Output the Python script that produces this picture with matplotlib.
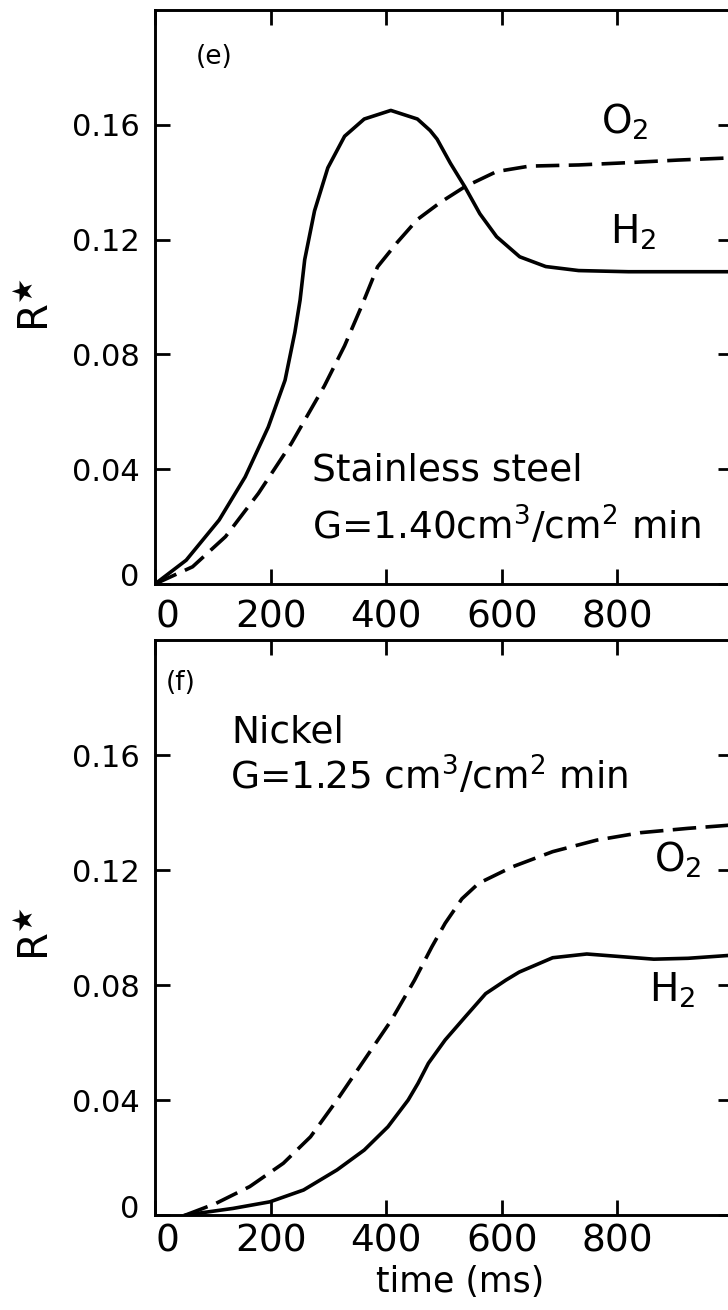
import matplotlib
matplotlib.use('Agg')
import matplotlib.pyplot as plt
from matplotlib.transforms import ScaledTranslation

# panel (e): stainless steel, time in ms, R* values
steel_h2_t = [0, 54, 111, 156, 196, 225, 242, 251, 259, 276, 299, 328, 362, 408, 454, 476, 488, 511, 536, 562, 591, 631, 676, 733, 819, 900, 1000]
steel_h2_r = [0, 0.0083, 0.0223, 0.0373, 0.0547, 0.071, 0.0877, 0.0989, 0.113, 0.130, 0.145, 0.156, 0.162, 0.165, 0.162, 0.158, 0.155, 0.1466, 0.1384, 0.129, 0.121, 0.114, 0.1106, 0.1092, 0.1088, 0.1088, 0.1088]
steel_o2_t = [0, 65, 122, 179, 236, 293, 328, 357, 385, 419, 454, 494, 536, 591, 648, 733, 819, 905, 1000]
steel_o2_r = [0, 0.006, 0.0165, 0.0316, 0.049, 0.069, 0.083, 0.0966, 0.1105, 0.119, 0.127, 0.133, 0.1384, 0.1437, 0.1456, 0.146, 0.1468, 0.1477, 0.1485]

# panel (f): nickel
nickel_o2_t = [53, 105, 164, 222, 269, 315, 362, 409, 449, 479, 502, 531, 560, 618, 688, 764, 840, 922, 1000]
nickel_o2_r = [0, 0.004, 0.0099, 0.018, 0.0272, 0.040, 0.0539, 0.0678, 0.0817, 0.0933, 0.1015, 0.110, 0.1154, 0.1211, 0.1264, 0.1304, 0.133, 0.1345, 0.1357]
nickel_h2_t = [53, 135, 199, 257, 315, 362, 403, 438, 455, 473, 502, 537, 572, 607, 630, 659, 688, 747, 805, 863, 922, 1000]
nickel_h2_r = [0, 0.0023, 0.0046, 0.0087, 0.0157, 0.0226, 0.0307, 0.040, 0.0458, 0.0528, 0.0609, 0.069, 0.077, 0.0817, 0.0845, 0.087, 0.0895, 0.0908, 0.0899, 0.089, 0.0893, 0.0904]

x_ticks = [0, 200, 400, 600, 800, 1000]
x_tick_labels = ['0', '200', '400', '600', '800', '']  # 1000 is cut off in the original
y_ticks = [0, 0.04, 0.08, 0.12, 0.16]
y_tick_labels = ['0', '0.04', '0.08', '0.12', '0.16']

plt.rcParams['font.family'] = 'DejaVu Sans'
plt.rcParams['mathtext.default'] = 'regular'

LW = 2.6
DASH = (0, (6.5, 2.6))
TXT = 27
GAS = 28


def style_axes(fig, ax, xpad):
	"""Limits, inward ticks on all sides, heavy spines and the R* label"""
	ax.set_xlim(0, 1000)
	ax.set_ylim(0, 0.2)
	ax.set_xticks(x_ticks)
	ax.set_xticklabels(x_tick_labels)
	ax.set_yticks(y_ticks)
	ax.set_yticklabels(y_tick_labels)
	ax.tick_params(direction='in', top=True, right=True, length=11, width=2)
	ax.tick_params(axis='x', labelsize=27, pad=xpad)
	ax.tick_params(axis='y', labelsize=22, pad=11)
	for sp in ax.spines.values():
		sp.set_linewidth(2.1)

	# hand lettered zeros sit a little off their ticks
	lab = ax.get_xticklabels()[0]
	lab.set_transform(lab.get_transform() + ScaledTranslation(0.12, 0, fig.dpi_scale_trans))
	lab = ax.get_yticklabels()[0]
	lab.set_transform(lab.get_transform() + ScaledTranslation(0, 0.09, fig.dpi_scale_trans))

	ax.set_ylabel('R$^{\u2605}$', fontsize=29, va='center')


fig = plt.figure(figsize=(7.28, 13.10), dpi=100)

# the right edge of the original figure is cut off, so the axes run past it
ax1 = fig.add_axes([0.2129, 0.5542, 0.794, 0.4382])
ax1.plot(steel_h2_t, steel_h2_r, color='black', lw=LW)
ax1.plot(steel_o2_t, steel_o2_r, color='black', lw=LW, linestyle=DASH)
style_axes(fig, ax1, 11)
ax1.yaxis.set_label_coords(-0.202, 0.486)
ax1.text(70, 0.181, '(e)', fontsize=19)
ax1.text(771, 0.157, 'O$_2$', fontsize=GAS)
ax1.text(788, 0.1187, 'H$_2$', fontsize=GAS)
ax1.text(271, 0.0362, 'Stainless steel', fontsize=TXT)
ax1.text(271, 0.0153, 'G=1.40cm$^3$/cm$^2$ min', fontsize=TXT)

ax2 = fig.add_axes([0.2129, 0.0725, 0.794, 0.4389])
ax2.plot(nickel_o2_t, nickel_o2_r, color='black', lw=LW, linestyle=DASH)
ax2.plot(nickel_h2_t, nickel_h2_r, color='black', lw=LW)
style_axes(fig, ax2, 6)
ax2.yaxis.set_label_coords(-0.202, 0.489)
ax2.text(18, 0.1826, '(f)', fontsize=19)
ax2.text(864, 0.1194, 'O$_2$', fontsize=GAS)
ax2.text(855, 0.0742, 'H$_2$', fontsize=GAS)
ax2.text(132, 0.1643, 'Nickel', fontsize=TXT)
ax2.text(129, 0.148, 'G=1.25 cm$^3$/cm$^2$ min', fontsize=TXT)
ax2.set_xlabel('time (ms)', fontsize=25, va='center')
ax2.xaxis.set_label_coords(0.528, -0.117)

fig.savefig('out.png', dpi=100)
